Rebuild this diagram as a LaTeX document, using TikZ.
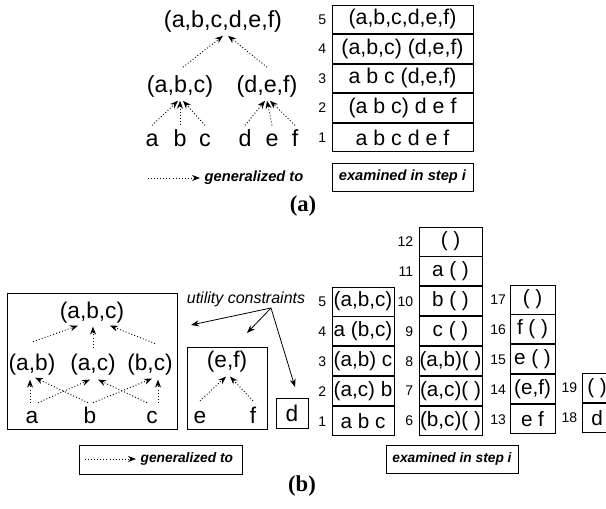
\documentclass[tikz,border=0pt]{standalone}
\usepackage{fontspec}
\setmainfont{Liberation Sans}
\newfontfamily\capfont{Liberation Serif}
\usetikzlibrary{positioning, arrows.meta}
\newcommand{\pxu}{0.75pt}
\tikzset{
    tree/.style={font=\fontsize{17.5}{20}\selectfont, inner sep=2pt, anchor=base},
    leaf/.style={tree, text height=12pt, text depth=0pt, inner ysep=4pt},
    treeb/.style={tree, font=\fontsize{17}{19}\selectfont},
    leafb/.style={treeb, text height=12pt, text depth=0pt, inner ysep=3pt},
    gen/.style={dash pattern=on 0.7pt off 1.6pt, line width=0.7pt, -{Stealth[length=6pt, width=4.5pt]}},
    util/.style={line width=0.6pt, -{Stealth[length=6pt, width=4.5pt]}},
    cell/.style={draw, line width=0.7pt, inner sep=0pt, font=\fontsize{16}{18}\selectfont,
                 minimum height=28.6*\pxu},
    cellb/.style={cell, font=\fontsize{15.5}{18}\selectfont, minimum height=29*\pxu},
    num/.style={inner sep=0pt, font=\fontsize{10.5}{12}\selectfont},
    legtxt/.style={font=\fontsize{11}{13}\selectfont\bfseries\itshape},
    legbox/.style={draw, line width=0.7pt, inner sep=0pt}
}

\begin{document}
\begin{tikzpicture}[x=\pxu, y=-\pxu]
    \clip (0,0) rectangle (606,509);

    % (a) generalization tree
    \node[tree] (abcdef) at (223,28) {(a,b,c,d,e,f)};
    \node[tree] (abc) at (180,93) {(a,b,c)};
    \node[tree] (def) at (267,93) {(d,e,f)};
    \node[leaf] (la) at (152,147) {a};
    \node[leaf] (lb) at (180,147) {b};
    \node[leaf] (lc) at (205,147) {c};
    \node[leaf] (ld) at (245,147) {d};
    \node[leaf] (le) at (272,147) {e};
    \node[leaf] (lf) at (295,147) {f};
    \draw[gen] ([shift={(3,-6)}]abc.north) -- (abcdef.south);
    \draw[gen] ([shift={(0,-6)}]def.north) -- ([shift={(5,0)}]abcdef.south);
    \draw[gen] (la.north) -- ([shift={(-2,0)}]abc.south);
    \draw[gen] (lb.north) -- (abc.south);
    \draw[gen] (lc.north) -- ([shift={(3,0)}]abc.south);
    \draw[gen] (ld.north) -- ([shift={(-2,0)}]def.south);
    \draw[gen] (le.north) -- (def.south);
    \draw[gen] (lf.north) -- ([shift={(3,0)}]def.south);

    % (a) steps
    \node[cell, minimum width=141*\pxu] (a5) at (402.5,19.3) {(a,b,c,d,e,f)};
    \node[cell, minimum width=141*\pxu, below=0pt of a5] (a4) {(a,b,c) (d,e,f)};
    \node[cell, minimum width=141*\pxu, below=0pt of a4] (a3) {a b c (d,e,f)};
    \node[cell, minimum width=141*\pxu, below=0pt of a3] (a2) {(a b c) d e f};
    \node[cell, minimum width=141*\pxu, below=0pt of a2] (a1) {a b c d e f};
    \node[num, left=3.75pt of a5] (na5) {5};
    \node[num, left=3.75pt of a4] (na4) {4};
    \node[num, left=3.75pt of a3] (na3) {3};
    \node[num, left=3.75pt of a2] (na2) {2};
    \node[num, left=3.75pt of a1] (na1) {1};

    % (a) legend
    \coordinate (gena) at (148,178);
    \node[legtxt, anchor=west] (genatxt) at (200,178) {generalized to};
    \draw[gen] (gena) -- (genatxt.west);
    \node[legbox, legtxt, minimum width=141*\pxu, minimum height=28*\pxu] (stepa) at (402.5,177) {examined in step i};
    \node[font=\capfont\fontsize{17}{19}\selectfont\bfseries] (capa) at (303,206) {(a)};

    % (b) lattice of (a,b,c)
    \draw[line width=0.7pt] (7,293) rectangle (177,429);
    \node[treeb] (babc) at (92,318) {(a,b,c)};
    \node[treeb] (bab) at (32,370) {(a,b)};
    \node[treeb] (bac) at (93,370) {(a,c)};
    \node[treeb] (bbc) at (150,370) {(b,c)};
    \node[leafb] (ba) at (32,423) {a};
    \node[leafb] (bb) at (90,423) {b};
    \node[leafb] (bc) at (152,423) {c};
    \draw[gen] ([shift={(1,-9)}]bab.north) -- ([shift={(-14,0)}]babc.south);
    \draw[gen] ([shift={(0,-3)}]bac.north) -- ([shift={(1,1)}]babc.south);
    \draw[gen] ([shift={(5,-7)}]bbc.north) -- ([shift={(18,0)}]babc.south);
    \draw[gen] ([shift={(-2,0)}]ba.north) -- ([shift={(-2,2)}]bab.south);
    \draw[gen] ([shift={(6,0)}]ba.north) -- ([shift={(-3,2)}]bac.south);
    \draw[gen] ([shift={(-2,0)}]bb.north) -- ([shift={(3,0)}]bab.south);
    \draw[gen] ([shift={(3,0)}]bb.north) -- ([shift={(2,1)}]bbc.south);
    \draw[gen] ([shift={(-5,0)}]bc.north) -- ([shift={(5,2)}]bac.south);
    \draw[gen] ([shift={(6,0)}]bc.north) -- ([shift={(8,2)}]bbc.south);

    % (b) lattice of (e,f) and d
    \draw[line width=0.7pt] (187,347) rectangle (267,429);
    \node[treeb] (bef) at (227,367) {(e,f)};
    \node[leafb] (be) at (200,423) {e};
    \node[leafb] (bf) at (253,423) {f};
    \draw[gen] ([shift={(0,-2)}]be.north) -- ([shift={(-1,2)}]bef.south);
    \draw[gen] ([shift={(0,-2)}]bf.north) -- ([shift={(3,2)}]bef.south);
    \node[draw, line width=0.7pt, treeb, anchor=center, minimum width=32*\pxu, minimum height=30*\pxu] (bd) at (292,413) {d};

    % utility constraints
    \node[font=\fontsize{12}{14}\selectfont\itshape, inner sep=1pt] (uc) at (246,299) {utility constraints};
    \coordinate (ucsrc) at (271,308);
    \coordinate (uc1) at (191,325);
    \coordinate (uc2) at (247,333);
    \coordinate (uc3) at (295,387);
    \draw[util] (ucsrc) -- (uc1);
    \draw[util] (ucsrc) -- (uc2);
    \draw[util] (ucsrc) -- (uc3);

    % (b) steps
    \node[cellb, minimum width=62*\pxu] (b5) at (363,301.5) {(a,b,c)};
    \node[cellb, minimum width=62*\pxu, below=0pt of b5] (b4) {a (b,c)};
    \node[cellb, minimum width=62*\pxu, below=0pt of b4] (b3) {(a,b) c};
    \node[cellb, minimum width=62*\pxu, below=0pt of b3] (b2) {(a,c) b};
    \node[cellb, minimum width=62*\pxu, below=0pt of b2] (b1) {a b c};
    \node[cellb, minimum width=63*\pxu] (b12) at (450.5,241.5) {( )};
    \node[cellb, minimum width=63*\pxu, below=0pt of b12] (b11) {a ( )};
    \node[cellb, minimum width=63*\pxu, below=0pt of b11] (b10) {b ( )};
    \node[cellb, minimum width=63*\pxu, below=0pt of b10] (b9) {c ( )};
    \node[cellb, minimum width=63*\pxu, below=0pt of b9] (b8) {(a,b)( )};
    \node[cellb, minimum width=63*\pxu, below=0pt of b8] (b7) {(a,c)( )};
    \node[cellb, minimum width=63*\pxu, below=0pt of b7] (b6) {(b,c)( )};
    \node[cellb, minimum width=45*\pxu] (b17) at (532.5,299.5) {( )};
    \node[cellb, minimum width=45*\pxu, below=0pt of b17] (b16) {f ( )};
    \node[cellb, minimum width=45*\pxu, below=0pt of b16] (b15) {e ( )};
    \node[cellb, minimum width=45*\pxu, below=0pt of b15] (b14) {(e,f)};
    \node[cellb, minimum width=45*\pxu, below=0pt of b14] (b13) {e f};
    \node[cellb, minimum width=30*\pxu] (b19) at (597,388) {( )};
    \node[cellb, minimum width=30*\pxu, below=0pt of b19] (b18) {d};
    \foreach \n in {1,...,5}{
        \node[num, left=3.75pt of b\n] (nb\n) {\n};
    }
    \foreach \n in {6,...,12}{
        \node[num, left=3.75pt of b\n] (nb\n) {\n};
    }
    \foreach \n in {13,...,17}{
        \node[num, left=2.5pt of b\n] (nb\n) {\n};
    }
    \foreach \n in {18,19}{
        \node[num, left=3pt of b\n] (nb\n) {\n};
    }

    % (b) legend
    \node[legbox, minimum width=163*\pxu, minimum height=29*\pxu] (genb) at (160.5,459.5) {};
    \coordinate (genbsrc) at (85,459);
    \node[legtxt, font=\fontsize{10.3}{12}\selectfont\bfseries\itshape, anchor=west] (genbtxt) at (136,459) {generalized to};
    \draw[gen] (genbsrc) -- (genbtxt.west);
    \node[legbox, legtxt, font=\fontsize{10.3}{12}\selectfont\bfseries\itshape, minimum width=132*\pxu, minimum height=28*\pxu] (stepb) at (452,459) {examined in step i};
    \node[font=\capfont\fontsize{17}{19}\selectfont\bfseries] (capb) at (302,486) {(b)};
\end{tikzpicture}
\end{document}
